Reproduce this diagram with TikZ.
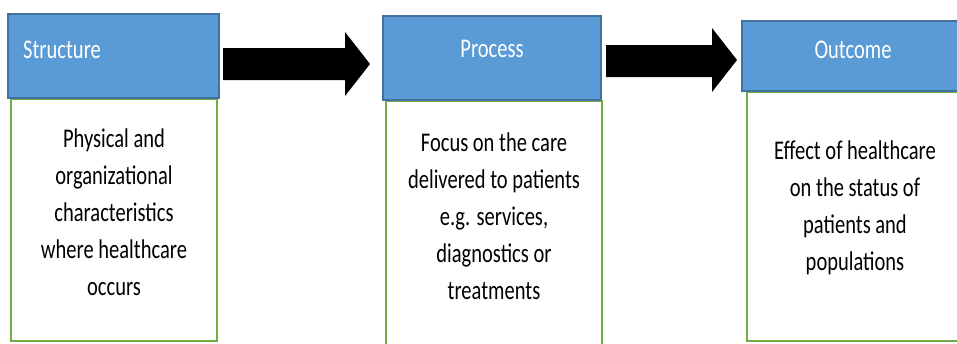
\documentclass[tikz,border=0pt]{standalone}
\usepackage{fontspec}
\setmainfont{Carlito}[FakeStretch=0.76]
\definecolor{hdrblue}{HTML}{5B9BD5}
\definecolor{hdredge}{HTML}{41719C}
\definecolor{boxgreen}{HTML}{70AD47}
\tikzset{
  header/.style={rectangle, fill=hdrblue, draw=hdredge, line width=1.2pt, inner sep=0pt},
  bodybox/.style={rectangle, draw=boxgreen, line width=1.5pt, fill=white, inner sep=0pt},
  titletext/.style={text=white, inner sep=0pt, font=\fontsize{27}{37}\selectfont},
  bodytext/.style={align=center, inner sep=0pt, text=black, font=\fontsize{27}{37}\selectfont},
  blockarrow/.style={fill=black, draw=none}
}
\begin{document}
\begin{tikzpicture}[x=1pt,y=-1pt]
\useasboundingbox (0,0) rectangle (957,343);
\clip (0,0) rectangle (957,343);
\fill[white] (0,0) rectangle (957,343);

% Structure column
\node[bodybox, minimum width=206, minimum height=242] (sbody) at (114,220) {};
\node[header, minimum width=211, minimum height=84] (shead) at (113.5,56) {};
\node[titletext, anchor=west] (stitle) at (23,50) {Structure};
\node[bodytext] (stext) at (114,212) {Physical and\\organizational\\characteristics\\where healthcare\\occurs};

% Process column
\node[bodybox, line width=1.2pt, minimum width=216, minimum height=244] (pbody) at (494,223) {};
\node[header, minimum width=218, minimum height=84] (phead) at (492,58) {};
\node[titletext] (ptitle) at (492,49) {Process};
\node[bodytext] (ptext) at (494,216) {Focus on the care\\delivered to patients\\e.g. services,\\diagnostics or\\treatments};

% Outcome column
\node[bodybox, minimum width=216, minimum height=249] (obody) at (855,216.5) {};
\node[header, minimum width=218, minimum height=70] (ohead) at (851,56) {};
\node[titletext] (otitle) at (853,50) {Outcome};
\node[bodytext] (otext) at (855,208) {Effect of healthcare\\on the status of\\patients and\\populations};

% Block arrows between the headers
\fill[blockarrow] (223,48) -- (345,48) -- (345,32) -- (370,64) -- (345,96) -- (345,80) -- (223,80) -- cycle;
\fill[blockarrow] (606,45) -- (712,45) -- (712,28) -- (737,60) -- (712,92) -- (712,77) -- (606,77) -- cycle;
\end{tikzpicture}
\end{document}
